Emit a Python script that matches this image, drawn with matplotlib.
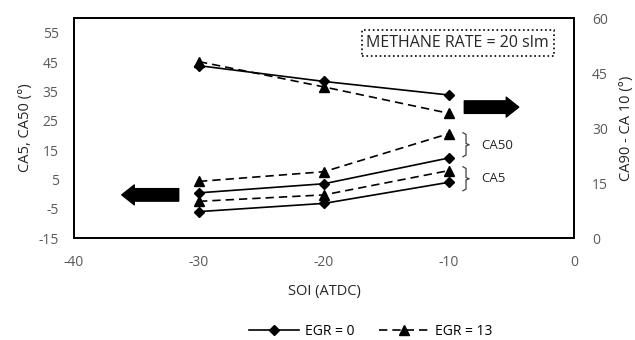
import matplotlib
matplotlib.use("Agg")
import matplotlib.pyplot as plt
from matplotlib.lines import Line2D

plt.rcParams['font.family'] = ['Open Sans', 'DejaVu Sans']
plt.rcParams['axes.unicode_minus'] = False

soi = [-30, -20, -10]

# left axis: CA5 and CA50 (deg)
ca50_egr0 = [0.4, 3.5, 12.3]
ca5_egr0 = [-6.0, -3.2, 4.0]
ca50_egr13 = [4.3, 7.6, 20.6]
ca5_egr13 = [-2.5, -0.3, 8.0]

# right axis: CA90 - CA10 (deg)
dur_egr0 = [47.0, 42.7, 39.0]
dur_egr13 = [48.1, 41.2, 34.0]

labels = ["EGR = 0", "EGR = 13"]

fig = plt.figure(figsize=(6.35, 3.4), dpi=100)
ax = fig.add_axes([0.1165, 0.30, 0.7875, 0.647])
ax2 = ax.twinx()

solid = dict(color='black', linestyle='-', marker='D', markersize=5.5, linewidth=1.2)
dashed = dict(color='black', linestyle=(0, (5, 3)), marker='^', markersize=7, linewidth=1.2)

ax.plot(soi, ca50_egr0, **solid)
ax.plot(soi, ca5_egr0, **solid)
ax.plot(soi, ca50_egr13, **dashed)
ax.plot(soi, ca5_egr13, **dashed)
ax2.plot(soi, dur_egr0, **solid)
ax2.plot(soi, dur_egr13, **dashed)

ax.set_xlim(-40, 0)
ax.set_ylim(-15, 60)
ax.set_yticks(range(-15, 56, 10))
ax.set_xticks(range(-40, 1, 10))
ax2.set_ylim(0, 60)
ax2.set_yticks(range(0, 61, 15))

tickcol = '#595959'
ax.tick_params(axis='x', length=0, pad=12, labelsize=10, labelcolor=tickcol)
ax.tick_params(axis='y', length=0, pad=11, labelsize=10, labelcolor=tickcol)
ax2.tick_params(axis='y', length=0, pad=13, labelsize=10, labelcolor=tickcol)
for s in ax.spines.values():
    s.set_linewidth(1.3)
for s in ax2.spines.values():
    s.set_linewidth(1.3)

ax.set_xlabel("SOI (ATDC)", fontsize=10.5, color='#262626', labelpad=10)
ax.set_ylabel("CA5, CA50 (°)", fontsize=10.5, color='#262626', labelpad=4)
ax2.set_ylabel("CA90 - CA 10 (°)", fontsize=10.5, color='#262626', labelpad=8)

# arrows pointing to the axis each group belongs to
arrow = dict(arrowstyle='simple,head_length=0.6,head_width=0.95,tail_width=0.6',
             color='black', mutation_scale=15)
ax.annotate("", xy=(-36.4, -0.3), xytext=(-31.4, -0.3), arrowprops=arrow)
ax2.annotate("", xy=(-4.2, 35.7), xytext=(-9.0, 35.7), arrowprops=arrow)


# curly brackets for the CA50 / CA5 groups
def bracket(y0, y1, x=-8.64, w=0.25):
    ym = (y0 + y1) / 2
    xs = [x - w, x, x, x + w, x, x, x - w]
    ys = [y1, y1 - 0.6, ym + 0.4, ym, ym - 0.4, y0 + 0.6, y0]
    ax.plot(xs, ys, color='#404040', linewidth=0.9, clip_on=False)


bracket(12.7, 20.9)
bracket(1.1, 9.3)
ax.text(-7.44, 16.7, "CA50", fontsize=9.5, ha='left', va='center', color='#262626')
ax.text(-7.44, 5.2, "CA5", fontsize=9.5, ha='left', va='center', color='#262626')

ax.text(-9.3, 51.5, "METHANE RATE = 20 slm", fontsize=11.5, ha='center', va='center',
        color='#262626',
        bbox=dict(boxstyle='square,pad=0.3', facecolor='white', edgecolor='black',
                  linestyle=':', linewidth=1.2))

handles = [Line2D([], [], **solid), Line2D([], [], **dashed)]
fig.legend(handles, labels, loc='center', bbox_to_anchor=(0.584, 0.024), ncol=2,
           frameon=False, fontsize=10, handlelength=3.6, handletextpad=0.4,
           columnspacing=1.8, borderpad=0)

fig.savefig("out.png", dpi=100)
